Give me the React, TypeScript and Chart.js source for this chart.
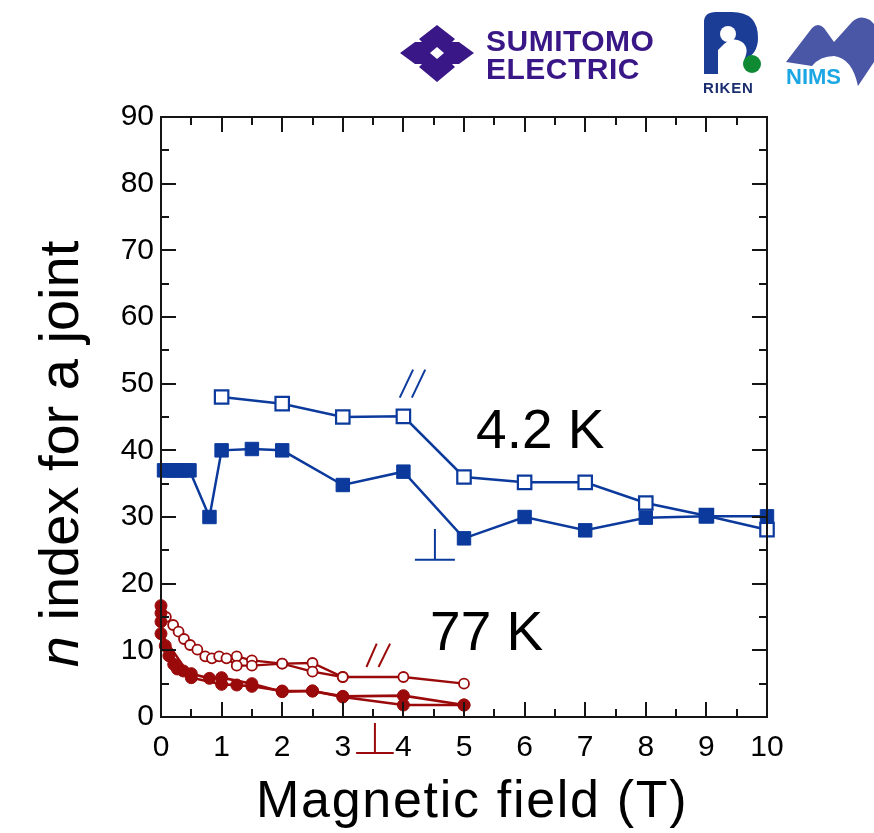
import React, { useEffect, useRef } from 'react';
import { Chart, registerables } from 'chart.js';

Chart.register(...registerables);

const BLUE = '#0B3A9C';
const RED = '#9A0A0A';

// axis ticks
const xTickValues = [0, 1, 2, 3, 4, 5, 6, 7, 8, 9, 10];
const yTickValues = [0, 10, 20, 30, 40, 50, 60, 70, 80, 90];

// 4.2 K, parallel field (open squares)
const k42ParX = [1, 2, 3, 4, 5, 6, 7, 8, 9, 10];
const k42ParY = [48.0, 47.0, 45.0, 45.1, 36.0, 35.2, 35.2, 32.1, 30.2, 28.1];

// 4.2 K, perpendicular field (filled squares)
const k42PerpX = [0.05, 0.12, 0.19, 0.26, 0.33, 0.40, 0.47, 0.8, 1, 1.5, 2, 3, 4, 5, 6, 7, 8, 9, 10];
const k42PerpY = [37, 37, 37, 37, 37, 37, 37, 30.0, 40.0, 40.2, 40.0, 34.8, 36.8, 26.8, 30.0, 28.0, 29.9, 30.1, 30.1];

// 77 K, parallel field (open circles), two runs
const k77ParAX = [0.08, 0.2, 0.29, 0.38, 0.48, 0.6, 0.73, 0.84, 0.96, 1.25, 1.5, 2, 2.5, 3, 4, 5];
const k77ParAY = [15.0, 13.8, 12.8, 11.7, 10.8, 10.1, 9.1, 8.8, 9.1, 9.1, 8.5, 8.0, 8.1, 6.0, 6.0, 5.0];
const k77ParBX = [1.08, 1.25, 1.5, 2, 2.5, 3];
const k77ParBY = [8.8, 7.7, 7.7, 8.0, 6.8, 6.0];

// 77 K, perpendicular field (filled circles), two runs
const k77PerpAX = [0, 0, 0.07, 0.13, 0.21, 0.27, 0.37, 0.5, 0.8, 1, 1.5, 2, 2.5, 3, 4, 5];
const k77PerpAY = [16.7, 14.3, 10.7, 9.2, 7.9, 7.2, 6.9, 6.5, 5.8, 5.9, 5.0, 3.8, 3.9, 3.1, 3.2, 1.8];
const k77PerpBX = [0, 0, 0.5, 1, 1.25, 1.5, 2, 2.5, 3, 4, 5];
const k77PerpBY = [15.6, 12.5, 5.9, 4.9, 4.8, 4.6, 3.9, 3.9, 3.0, 1.8, 1.8];

const pts = (xs: number[], ys: number[]) => xs.map((x, i) => ({ x, y: ys[i] }));

const FONT = '"Liberation Sans", Arial, Helvetica, sans-serif';

const decorPlugin = {
  id: 'decor',
  afterDraw(chart: any) {
    const { ctx, chartArea: ca, scales } = chart;
    const xs = scales.x;
    const ys = scales.y;
    const X = (v: number) => xs.getPixelForValue(v);
    const Y = (v: number) => ys.getPixelForValue(v);
    const seg = (x1: number, y1: number, x2: number, y2: number) => {
      ctx.beginPath();
      ctx.moveTo(x1, y1);
      ctx.lineTo(x2, y2);
      ctx.stroke();
    };
    ctx.save();
    // frame and inward ticks
    ctx.strokeStyle = '#151515';
    ctx.lineWidth = 2;
    for (let i = 0; i <= 20; i++) {
      const v = i * 0.5;
      const px = Math.round(X(v));
      const len = i % 2 === 0 ? 15 : 8;
      seg(px, ca.bottom, px, ca.bottom - len);
      seg(px, ca.top, px, ca.top + len);
    }
    for (let i = 0; i <= 18; i++) {
      const v = i * 5;
      const py = Math.round(Y(v));
      const len = i % 2 === 0 ? 15 : 8;
      seg(ca.left, py, ca.left + len, py);
      seg(ca.right, py, ca.right - len, py);
    }
    ctx.strokeRect(ca.left, ca.top, ca.right - ca.left, ca.bottom - ca.top);

    // field-direction marks
    ctx.lineWidth = 2;
    ctx.strokeStyle = BLUE;
    seg(X(3.94), Y(47.9), X(4.16), Y(52.1));
    seg(X(4.14), Y(47.9), X(4.36), Y(52.1));
    seg(X(4.52), Y(28.2), X(4.52), Y(23.6));
    seg(X(4.19), Y(23.6), X(4.85), Y(23.6));
    ctx.strokeStyle = RED;
    seg(X(3.39), Y(7.5), X(3.56), Y(11.0));
    seg(X(3.59), Y(7.5), X(3.78), Y(11.0));
    seg(X(3.53), Y(-0.9), X(3.53), Y(-5.4));
    seg(X(3.22), Y(-5.4), X(3.84), Y(-5.4));

    // temperature labels
    ctx.fillStyle = '#000';
    ctx.textBaseline = 'alphabetic';
    ctx.textAlign = 'left';
    ctx.font = `55px ${FONT}`;
    ctx.fillText('4.2 K', X(5.2), Y(40.4));
    ctx.fillText('77 K', X(4.44), Y(10.1));

    // x title
    ctx.font = `52px ${FONT}`;
    (ctx as any).letterSpacing = '1.7px';
    ctx.fillText('Magnetic field (T)', 256, 817);
    (ctx as any).letterSpacing = '0px';

    // y title with italic n
    ctx.translate(78, 454);
    ctx.rotate(-Math.PI / 2);
    const fItal = `italic 56px ${FONT}`;
    const fNorm = `56px ${FONT}`;
    ctx.font = fItal;
    const w1 = ctx.measureText('n').width;
    ctx.font = fNorm;
    const rest = ' index for a joint';
    const w2 = ctx.measureText(rest).width;
    const start = -(w1 + w2) / 2;
    ctx.font = fItal;
    ctx.fillText('n', start, 0);
    ctx.font = fNorm;
    ctx.fillText(rest, start + w1, 0);
    ctx.restore();
  },
};

function Logos() {
  return (
    <svg width={874} height={110} style={{ position: 'absolute', left: 0, top: 0 }}>
      {/* Sumitomo Electric mark */}
      <path d="M437,25 L455,39 L452,42 L459,42 L474,53 L459,64 L452,64 L455,67 L437,82 L419,67 L422,64 L415,64 L400,53 L415,42 L422,42 L419,39 Z" fill="#3A1786" />
      <path d="M437,47 L444,53 L437,59 L430,53 Z" fill="#fff" />
      <text x={486} y={51} fill="#3A1786" fontFamily='"Liberation Sans", Arial, sans-serif' fontWeight={700} fontSize={30} letterSpacing={0.5}>SUMITOMO</text>
      <text x={486} y={79} fill="#3A1786" fontFamily='"Liberation Sans", Arial, sans-serif' fontWeight={700} fontSize={30} letterSpacing={0.5}>ELECTRIC</text>
      {/* RIKEN mark */}
      <path d="M704,74 L704,22 Q704,12 716,12 L732,12 Q758,12 758,38 Q758,54 744,60 Q750,48 742,42 Q734,36 724,44 L718,50 L718,74 Z" fill="#1B3D96" />
      <circle cx={728} cy={34} r={8} fill="#fff" />
      <circle cx={752} cy={64} r={9} fill="#0E8A33" />
      <text x={703} y={93} fill="#1B2F70" fontFamily='"Liberation Sans", Arial, sans-serif' fontWeight={700} fontSize={15} letterSpacing={0.8}>RIKEN</text>
      {/* NIMS mark */}
      <path d="M786,62 L812,28 Q818,22 824,28 L834,42 L852,22 Q860,14 870,20 L874,24 L874,62 L858,86 Q852,58 834,56 Q820,56 812,66 Z" fill="#4A56A6" />
      <text x={786} y={84} fill="#1CA6E3" fontFamily='"Liberation Sans", Arial, sans-serif' fontWeight={700} fontSize={22}>NIMS</text>
    </svg>
  );
}

export default function App() {
  const ref = useRef<HTMLCanvasElement>(null);
  useEffect(() => {
    const openSq = (data: any) => ({
      data, showLine: true, clip: false, borderColor: BLUE, borderWidth: 2.5,
      pointStyle: 'rect', pointRadius: 9.5, pointBorderWidth: 2.2,
      pointBackgroundColor: '#fff', pointBorderColor: BLUE,
    });
    const fillSq = (data: any) => ({
      data, showLine: true, clip: false, borderColor: BLUE, borderWidth: 2.5,
      pointStyle: 'rect', pointRadius: 9.5, pointBorderWidth: 1,
      pointBackgroundColor: BLUE, pointBorderColor: BLUE,
    });
    const openCi = (data: any) => ({
      data, showLine: true, clip: false, borderColor: RED, borderWidth: 2.4,
      pointStyle: 'circle', pointRadius: 5, pointBorderWidth: 1.8,
      pointBackgroundColor: '#fff', pointBorderColor: RED,
    });
    const fillCi = (data: any) => ({
      data, showLine: true, clip: false, borderColor: RED, borderWidth: 2.6,
      pointStyle: 'circle', pointRadius: 6, pointBorderWidth: 1,
      pointBackgroundColor: RED, pointBorderColor: RED,
    });
    const chart = new Chart(ref.current as HTMLCanvasElement, {
      type: 'scatter',
      data: {
        datasets: [
          fillCi(pts(k77PerpAX, k77PerpAY)),
          fillCi(pts(k77PerpBX, k77PerpBY)),
          openCi(pts(k77ParBX, k77ParBY)),
          openCi(pts(k77ParAX, k77ParAY)),
          fillSq(pts(k42PerpX, k42PerpY)),
          openSq(pts(k42ParX, k42ParY)),
        ] as any,
      },
      options: {
        animation: false,
        responsive: false,
        events: [],
        layout: { padding: { top: 117, right: 107, left: 0, bottom: 0 } },
        elements: { line: { tension: 0 } },
        plugins: { legend: { display: false }, tooltip: { enabled: false }, title: { display: false } },
        scales: {
          x: {
            type: 'linear', min: 0, max: 10,
            afterFit: (s: any) => { s.height = 116; },
            afterBuildTicks: (s: any) => { s.ticks = xTickValues.map((v) => ({ value: v })); },
            grid: { display: false, drawTicks: false },
            border: { display: false },
            ticks: { color: '#000', padding: 13, maxRotation: 0, font: { family: FONT, size: 30 } },
          },
          y: {
            type: 'linear', min: 0, max: 90,
            afterFit: (s: any) => { s.width = 161; },
            afterBuildTicks: (s: any) => { s.ticks = yTickValues.map((v) => ({ value: v })); },
            grid: { display: false, drawTicks: false },
            border: { display: false },
            ticks: { color: '#000', padding: 7, font: { family: FONT, size: 30 } },
          },
        },
      } as any,
      plugins: [decorPlugin],
    });
    return () => chart.destroy();
  }, []);
  return (
    <div style={{ position: 'fixed', left: 0, top: 0, width: 874, height: 833, background: '#fff', overflow: 'hidden' }}>
      <canvas ref={ref} width={874} height={833} style={{ position: 'absolute', left: 0, top: 0, width: 874, height: 833 }} />
      <Logos />
    </div>
  );
}
